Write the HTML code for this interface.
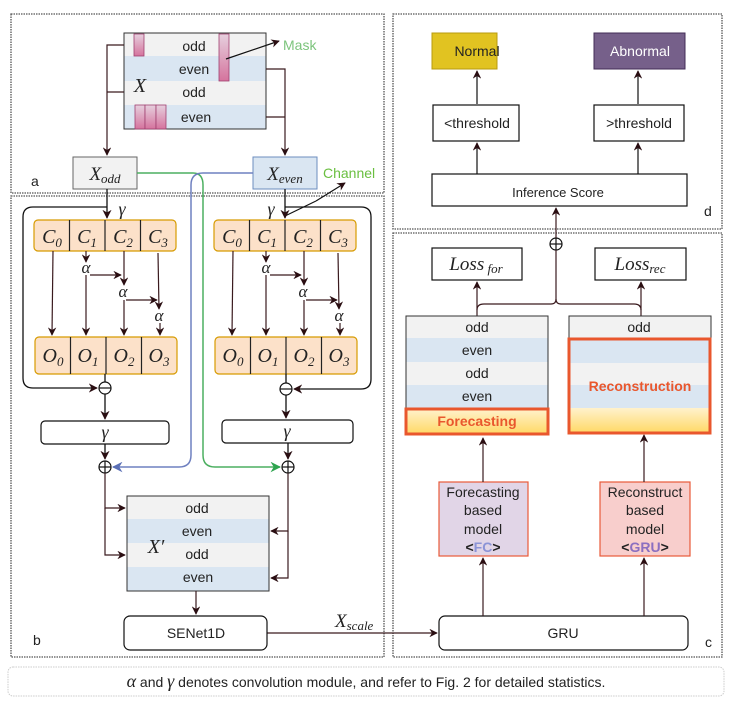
<!DOCTYPE html>
<html><head><meta charset="utf-8"><style>
body{margin:0;background:#fff;}
svg{display:block;font-family:"Liberation Sans",sans-serif;}
.m{font-family:"Liberation Serif",serif;font-style:italic;}
</style></head><body>
<svg width="734" height="714" viewBox="0 0 734 714" xmlns="http://www.w3.org/2000/svg">
<defs>
<marker id="ar" viewBox="0 0 10 10" refX="9" refY="5" markerWidth="7" markerHeight="7" orient="auto-start-reverse"><path d="M0,0 L10,5 L0,10 L3,5 z" fill="#2a0e12"/></marker>
<marker id="ab" viewBox="0 0 10 10" refX="9" refY="5" markerWidth="7" markerHeight="7" orient="auto"><path d="M0,0 L10,5 L0,10 L3,5 z" fill="#5a6fb5"/></marker>
<marker id="ag" viewBox="0 0 10 10" refX="9" refY="5" markerWidth="7" markerHeight="7" orient="auto"><path d="M0,0 L10,5 L0,10 L3,5 z" fill="#2ea44f"/></marker>
<linearGradient id="yg" x1="0" y1="0" x2="0" y2="1"><stop offset="0" stop-color="#fff2cc"/><stop offset="1" stop-color="#ffd966"/></linearGradient>
<linearGradient id="pg" x1="0" y1="0" x2="0" y2="1"><stop offset="0" stop-color="#e6d0de"/><stop offset="1" stop-color="#d5739d"/></linearGradient>
<g id="mod">
<g fill="#fce1c9" stroke="#d79b00" stroke-width="1.2">
<rect x="34" y="220" width="142" height="31" rx="4"/>
<rect x="35" y="337" width="142" height="37" rx="4"/>
</g>
<g stroke="#222" stroke-width="1.2">
<line x1="69.5" y1="220" x2="69.5" y2="251"/><line x1="105" y1="220" x2="105" y2="251"/><line x1="140.5" y1="220" x2="140.5" y2="251"/>
<line x1="70.5" y1="337" x2="70.5" y2="374"/><line x1="106" y1="337" x2="106" y2="374"/><line x1="141.5" y1="337" x2="141.5" y2="374"/>
</g>
<g class="m" font-size="20" text-anchor="middle" fill="#222">
<text x="52" y="243">C<tspan font-size="13" dy="4">0</tspan></text>
<text x="87" y="243">C<tspan font-size="13" dy="4">1</tspan></text>
<text x="123" y="243">C<tspan font-size="13" dy="4">2</tspan></text>
<text x="158" y="243">C<tspan font-size="13" dy="4">3</tspan></text>
<text x="53" y="362">O<tspan font-size="13" dy="4">0</tspan></text>
<text x="88" y="362">O<tspan font-size="13" dy="4">1</tspan></text>
<text x="124" y="362">O<tspan font-size="13" dy="4">2</tspan></text>
<text x="159" y="362">O<tspan font-size="13" dy="4">3</tspan></text>
<text x="86" y="273" font-size="17">α</text>
<text x="123" y="297" font-size="17">α</text>
<text x="159" y="321" font-size="17">α</text>
</g>
<g stroke="#3a1a1e" stroke-width="1.2" fill="none" marker-end="url(#ar)">
<line x1="53" y1="251" x2="52" y2="335"/>
<line x1="86" y1="251" x2="86" y2="262"/>
<line x1="86" y1="275" x2="86" y2="335"/>
<line x1="90" y1="275" x2="121" y2="275"/>
<line x1="124" y1="251" x2="124" y2="285"/>
<line x1="124" y1="300" x2="124" y2="335"/>
<line x1="126" y1="300" x2="157" y2="300"/>
<line x1="158" y1="253" x2="159" y2="309"/>
<line x1="160" y1="323" x2="160" y2="335"/>
</g>
</g>
</defs>
<rect width="734" height="714" fill="#fff"/>
<g fill="none" stroke="#555" stroke-width="1.3" stroke-dasharray="1.5,1">
<rect x="11" y="14" width="373" height="179"/>
<rect x="11" y="196" width="373" height="461"/>
<rect x="393" y="14" width="329" height="215"/>
<rect x="393" y="233" width="329" height="424"/>
</g>
<rect x="8" y="667" width="716" height="29" rx="5" fill="none" stroke="#ccc" stroke-width="1" stroke-dasharray="1.5,1"/>
<text x="366" y="687" text-anchor="middle" font-size="14" fill="#222"><tspan class="m" font-size="18">α</tspan> and <tspan class="m" font-size="18">γ</tspan>  denotes convolution module, and refer to Fig. 2 for detailed statistics.</text>
<g font-size="14" fill="#222"><text x="31" y="186">a</text><text x="33" y="645">b</text><text x="705" y="647">c</text><text x="704" y="216">d</text></g>

<rect x="124" y="33" width="142" height="23" fill="#f2f2f2"/>
<rect x="124" y="56" width="142" height="25" fill="#dae6f2"/>
<rect x="124" y="81" width="142" height="24" fill="#f2f2f2"/>
<rect x="124" y="105" width="142" height="24" fill="#dae6f2"/>
<rect x="124" y="33" width="142" height="96" fill="none" stroke="#333" stroke-width="1"/>
<g fill="url(#pg)" stroke="#a04070" stroke-width="0.8">
<rect x="134" y="34" width="10" height="22"/><rect x="219" y="34" width="10" height="47"/>
<rect x="135" y="105" width="10" height="24"/><rect x="145" y="105" width="11" height="24"/><rect x="156" y="105" width="10" height="24"/>
</g>
<g font-size="14" fill="#222" text-anchor="middle"><text x="194" y="51">odd</text><text x="194" y="74">even</text><text x="194" y="97">odd</text><text x="196" y="122">even</text></g>
<text x="140" y="92" class="m" font-size="20" fill="#222" text-anchor="middle">X</text>
<line x1="226" y1="59" x2="279" y2="41" stroke="#111" stroke-width="1.2" marker-end="url(#ar)"/>
<text x="283" y="50" font-size="14" fill="#7cc47c">Mask</text>
<g stroke="#3a1a1e" stroke-width="1.2" fill="none">
<path d="M124,45 H107 V155" marker-end="url(#ar)"/><path d="M124,92 H107"/>
<path d="M266,69 H285 V155" marker-end="url(#ar)"/><path d="M266,117 H285"/>
</g>
<rect x="73" y="157" width="64" height="32" fill="#f2f2f2" stroke="#666"/>
<rect x="253" y="157" width="64" height="32" fill="#dae6f2" stroke="#6c8ebf"/>
<text x="105" y="180" class="m" font-size="19" text-anchor="middle" fill="#222">X<tspan font-size="13" dy="3">odd</tspan></text>
<text x="285" y="180" class="m" font-size="19" text-anchor="middle" fill="#222">X<tspan font-size="13" dy="3">even</tspan></text>
<text x="323" y="178" font-size="14" fill="#6abf40">Channel</text>
<line x1="316" y1="201" x2="345" y2="183" stroke="#111" stroke-width="1.2" marker-end="url(#ar)"/>
<line x1="285" y1="216" x2="316" y2="201" stroke="#111" stroke-width="1.2"/>
<path d="M137,173 H193 Q203,173 203,185 V455 Q203,467 215,467 H280" fill="none" stroke="#4caf60" stroke-width="1.5" marker-end="url(#ag)"/>
<path d="M253,173 H203 Q191,173 191,185 V455 Q191,467 179,467 H113" fill="none" stroke="#6f80c0" stroke-width="1.5" marker-end="url(#ab)"/>
<use href="#mod"/>
<use href="#mod" transform="translate(180,0)"/>
<g stroke="#111" stroke-width="1.3" fill="none">
<path d="M107,189 V218" marker-end="url(#ar)"/>
<path d="M107,207 H33 Q23,207 23,217 V378 Q23,388 33,388 H97" marker-end="url(#ar)"/>
<path d="M105,374 V382"/>
<path d="M105,394 V419" marker-end="url(#ar)"/>
<path d="M105,444 V459" marker-end="url(#ar)"/>
<path d="M285,189 V218" marker-end="url(#ar)"/>
<path d="M285,207 H361 Q371,207 371,217 V379 Q371,389 361,389 H294" marker-end="url(#ar)"/>
<path d="M286,374 V383"/>
<path d="M286,395 V418" marker-end="url(#ar)"/>
<path d="M288,443 V459" marker-end="url(#ar)"/>
</g>
<g class="m" font-size="18" fill="#222" text-anchor="middle"><text x="122" y="215">γ</text><text x="271" y="215">γ</text></g>
<g fill="#fff" stroke="#111" stroke-width="1.2">
<circle cx="105" cy="388" r="6"/><circle cx="286" cy="389" r="6"/>
<circle cx="105" cy="467" r="6"/><circle cx="288" cy="467" r="6"/>
<circle cx="556" cy="244" r="6"/>
</g>
<g stroke="#111" stroke-width="1.2">
<line x1="99" y1="388" x2="111" y2="388"/><line x1="280" y1="389" x2="292" y2="389"/>
<line x1="99" y1="467" x2="111" y2="467"/><line x1="105" y1="461" x2="105" y2="473"/>
<line x1="282" y1="467" x2="294" y2="467"/><line x1="288" y1="461" x2="288" y2="473"/>
<line x1="550" y1="244" x2="562" y2="244"/><line x1="556" y1="238" x2="556" y2="250"/>
</g>
<rect x="41" y="421" width="128" height="23" rx="4" fill="#fff" stroke="#111" stroke-width="1.2"/>
<rect x="222" y="420" width="131" height="23" rx="4" fill="#fff" stroke="#111" stroke-width="1.2"/>
<g class="m" font-size="18" fill="#222" text-anchor="middle"><text x="105" y="438">γ</text><text x="287" y="437">γ</text></g>
<rect x="127" y="496" width="142" height="23" fill="#f2f2f2"/>
<rect x="127" y="519" width="142" height="24" fill="#dae6f2"/>
<rect x="127" y="543" width="142" height="24" fill="#f2f2f2"/>
<rect x="127" y="567" width="142" height="24" fill="#dae6f2"/>
<rect x="127" y="496" width="142" height="95" fill="none" stroke="#333" stroke-width="1"/>
<g font-size="14" fill="#222" text-anchor="middle"><text x="197" y="513">odd</text><text x="197" y="536">even</text><text x="197" y="559">odd</text><text x="198" y="582">even</text></g>
<text x="156" y="553" class="m" font-size="20" fill="#222" text-anchor="middle">X′</text>
<g stroke="#3a1a1e" stroke-width="1.2" fill="none">
<path d="M105,473 V508 H125" marker-end="url(#ar)"/><path d="M105,508 V555 H125" marker-end="url(#ar)"/>
<path d="M288,473 V531 H271" marker-end="url(#ar)"/><path d="M288,531 V578 H271" marker-end="url(#ar)"/>
<path d="M196,591 V614" marker-end="url(#ar)"/>
<path d="M267,633 H437" marker-end="url(#ar)"/>
</g>
<rect x="124" y="616" width="143" height="34" rx="6" fill="#fff" stroke="#111" stroke-width="1.2"/>
<text x="196" y="638" font-size="14" text-anchor="middle" fill="#222">SENet1D</text>
<text x="335" y="627" class="m" font-size="19" fill="#222">X<tspan font-size="13" dy="3">scale</tspan></text>
<rect x="439" y="616" width="249" height="34" rx="6" fill="#fff" stroke="#111" stroke-width="1.2"/>
<text x="563" y="638" font-size="14" text-anchor="middle" fill="#222">GRU</text>
<rect x="439" y="482" width="89" height="74" fill="#e1d5e7" stroke="#e85a3a" stroke-width="1.2"/>
<rect x="600" y="482" width="90" height="74" fill="#f8cecc" stroke="#e85a3a" stroke-width="1.2"/>
<g font-size="14" fill="#222" text-anchor="middle">
<text x="483" y="497">Forecasting</text><text x="483" y="515">based</text><text x="483" y="534">model</text>
<text x="483" y="552" font-weight="bold">&lt;<tspan fill="#8b93d6">FC</tspan>&gt;</text>
<text x="645" y="497">Reconstruct</text><text x="645" y="515">based</text><text x="645" y="534">model</text>
<text x="645" y="552" font-weight="bold">&lt;<tspan fill="#8b6fc0">GRU</tspan>&gt;</text>
</g>
<g stroke="#3a1a1e" stroke-width="1.2" fill="none">
<path d="M483,616 V558" marker-end="url(#ar)"/><path d="M644,616 V558" marker-end="url(#ar)"/>
<path d="M483,482 V438" marker-end="url(#ar)"/><path d="M644,482 V435" marker-end="url(#ar)"/>
<path d="M477,316 V282" marker-end="url(#ar)"/><path d="M641,316 V282" marker-end="url(#ar)"/>
<path d="M477,310 Q477,304 484,304 H551 Q556,304 556,299 V250"/>
<path d="M641,310 Q641,304 634,304 H561 Q556,304 556,299"/>
<path d="M556,238 V208" marker-end="url(#ar)"/>
</g>
<rect x="406" y="316" width="142" height="22" fill="#f2f2f2"/>
<rect x="406" y="338" width="142" height="24" fill="#dae6f2"/>
<rect x="406" y="362" width="142" height="23" fill="#f2f2f2"/>
<rect x="406" y="385" width="142" height="23" fill="#dae6f2"/>
<rect x="406" y="316" width="142" height="92" fill="none" stroke="#333" stroke-width="1"/>
<rect x="406" y="409" width="142" height="25" fill="url(#yg)" stroke="#e9572d" stroke-width="3"/>
<rect x="569" y="316" width="142" height="22" fill="#f2f2f2" stroke="#333" stroke-width="1"/>
<g font-size="14" fill="#222" text-anchor="middle"><text x="477" y="332">odd</text><text x="477" y="355">even</text><text x="477" y="378">odd</text><text x="477" y="401">even</text><text x="639" y="332">odd</text></g>
<text x="477" y="426" font-size="14" font-weight="bold" fill="#e9572d" text-anchor="middle">Forecasting</text>
<rect x="569" y="339" width="141" height="24" fill="#dae6f2"/>
<rect x="569" y="363" width="141" height="22" fill="#f2f2f2"/>
<rect x="569" y="385" width="141" height="23" fill="#dae6f2"/>
<rect x="569" y="408" width="141" height="25" fill="url(#yg)"/>
<rect x="569" y="339" width="141" height="94" fill="none" stroke="#e9572d" stroke-width="3"/>
<text x="640" y="391" font-size="14" font-weight="bold" fill="#e9572d" text-anchor="middle">Reconstruction</text>
<rect x="432" y="248" width="90" height="32" fill="#fff" stroke="#111" stroke-width="1.2"/>
<rect x="595" y="248" width="91" height="32" fill="#fff" stroke="#111" stroke-width="1.2"/>
<text x="476" y="270" class="m" font-size="19" fill="#222" text-anchor="middle">Loss<tspan font-size="13" dy="3"> for</tspan></text>
<text x="640" y="270" class="m" font-size="19" fill="#222" text-anchor="middle">Loss<tspan font-size="13" dy="3">rec</tspan></text>
<rect x="432" y="33" width="65" height="36" fill="#e1c321" stroke="#b89b10"/>
<rect x="594" y="33" width="91" height="36" fill="#76608a" stroke="#432d57"/>
<rect x="433" y="105" width="86" height="36" fill="#fff" stroke="#111" stroke-width="1.2"/>
<rect x="594" y="105" width="90" height="36" fill="#fff" stroke="#111" stroke-width="1.2"/>
<rect x="432" y="174" width="255" height="32" fill="#fff" stroke="#111" stroke-width="1.2"/>
<g font-size="14" text-anchor="middle" fill="#222">
<text x="477" y="56">Normal</text><text x="640" y="56" fill="#fff">Abnormal</text>
<text x="477" y="128">&lt;threshold</text><text x="639" y="128">&gt;threshold</text>
<text x="558" y="197" font-size="13">Inference Score</text>
</g>
<g stroke="#111" stroke-width="1.2" fill="none">
<path d="M477,174 V143" marker-end="url(#ar)"/><path d="M638,174 V143" marker-end="url(#ar)"/>
<path d="M477,104 V71" marker-end="url(#ar)"/><path d="M638,104 V71" marker-end="url(#ar)"/>
</g>
</svg>
</body></html>
